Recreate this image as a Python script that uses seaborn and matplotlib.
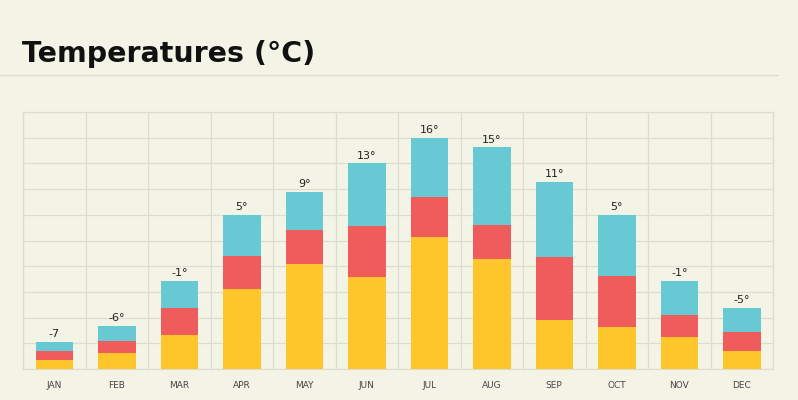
import numpy as np
import pandas as pd
import matplotlib
matplotlib.use("Agg")
import matplotlib.pyplot as plt
import seaborn as sns

# --- data (in grid units) ---
months = ["JAN", "FEB", "MAR", "APR", "MAY", "JUN",
          "JUL", "AUG", "SEP", "OCT", "NOV", "DEC"]
yellow = [0.36, 0.63, 1.33, 3.12, 4.09, 3.58, 5.14, 4.27, 1.91, 1.64, 1.23, 0.70]
red    = [0.34, 0.46, 1.05, 1.29, 1.33, 1.98, 1.55, 1.33, 2.45, 1.98, 0.88, 0.75]
blue   = [0.35, 0.60, 1.05, 1.58, 1.46, 2.44, 2.30, 3.02, 2.91, 2.38, 1.32, 0.93]
labels = ["-7", "-6°", "-1°", "5°", "9°", "13°", "16°", "15°", "11°", "5°", "-1°", "-5°"]

BG = "#F4F4E6"
GRID = "#DCDCD0"
C_YELLOW = "#FEC62A"
C_RED = "#F05B5B"
C_BLUE = "#67C9D3"

df = pd.DataFrame({"month": months, "yellow": yellow, "red": red, "blue": blue})
df["mid"] = df["yellow"] + df["red"]
df["total"] = df["mid"] + df["blue"]

sns.set_style("white")
plt.rcParams["font.family"] = ["DejaVu Sans"]

fig = plt.figure(figsize=(7.98, 4.0), dpi=100, facecolor=BG)
ax = fig.add_axes([23 / 798, 31 / 400, 750 / 798, 257 / 400])
ax.set_facecolor(BG)

# stacked look: draw cumulative heights back to front
for col, c in [("total", C_BLUE), ("mid", C_RED), ("yellow", C_YELLOW)]:
    sns.barplot(data=df, x="month", y=col, color=c, width=0.6,
                saturation=1, linewidth=0, ax=ax, zorder=3)

ax.bar_label(ax.containers[0], labels=labels, padding=2, fontsize=8,
             color="#222222")

ax.set_xlim(-0.5, len(months) - 0.5)
ax.set_ylim(0, 10)
ax.set_yticks(np.arange(0, 11, 1))
ax.set_yticklabels([])
ax.set_xticks(np.arange(-0.5, len(months), 1), minor=True)
ax.grid(True, which="major", axis="y", color=GRID, lw=0.9, zorder=0)
ax.grid(True, which="minor", axis="x", color=GRID, lw=0.9, zorder=0)
ax.tick_params(axis="both", which="both", length=0)
ax.tick_params(axis="x", which="major", pad=9, labelsize=6.5, labelcolor="#444444")
ax.set_xlabel("")
ax.set_ylabel("")
for s in ax.spines.values():
    s.set_color(GRID)
    s.set_linewidth(0.9)

# title and rule under it
fig.text(22 / 798, 1 - 62 / 400, "Temperatures (°C)", fontsize=20.5,
         fontweight="bold", color="#111111", va="baseline")
fig.add_artist(plt.Line2D([0, 778 / 798], [1 - 74.5 / 400] * 2,
                          color=GRID, lw=1))

fig.savefig("out.png", dpi=100, facecolor=BG)
